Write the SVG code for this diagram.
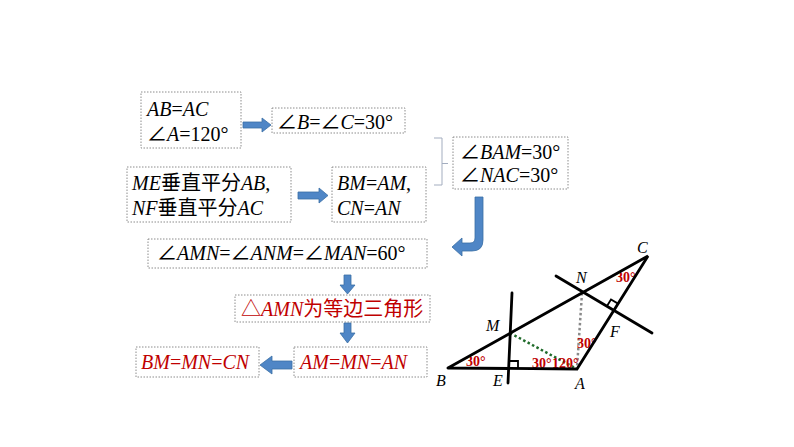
<svg xmlns="http://www.w3.org/2000/svg" width="794" height="447" viewBox="0 0 794 447">
<style>
.box{fill:#fff;stroke:#8c8c8c;stroke-width:1;stroke-dasharray:1.5 1.5}
.t{font-family:"Liberation Serif","Noto Sans CJK SC",serif;font-size:20px;fill:#000}
.r{fill:#c00000}
.i{font-style:italic}
.arr{fill:#4f86c6;stroke:#3a6ea5;stroke-width:0.8}
.ln{stroke:#000;stroke-width:2.8;fill:none;stroke-linecap:round}
.lab{font-family:"Liberation Serif",serif;font-size:16px;font-style:italic;fill:#000}
.ang{font-family:"Liberation Serif",serif;font-size:14px;font-weight:bold;fill:#c00000}
</style>
<rect width="794" height="447" fill="#fff"/>

<g id="n1">
<rect class="box" x="141" y="92" width="100" height="56"/>
<text class="t" x="147" y="116"><tspan class="i">AB</tspan>=<tspan class="i">AC</tspan></text>
<text class="t" x="147" y="141">∠<tspan class="i">A</tspan>=120°</text>
</g>
<g id="n2">
<rect class="box" x="272" y="108" width="133" height="25"/>
<text class="t" x="277" y="129">∠<tspan class="i">B</tspan>=∠<tspan class="i">C</tspan>=30°</text>
</g>
<g id="n3">
<rect class="box" x="453" y="137" width="115" height="52"/>
<text class="t" x="460" y="159">∠<tspan class="i">BAM</tspan>=30°</text>
<text class="t" x="460" y="182">∠<tspan class="i">NAC</tspan>=30°</text>
</g>
<g id="n4">
<rect class="box" x="127" y="167" width="164" height="55"/>
<text class="t" x="132" y="190"><tspan class="i">ME</tspan>垂直平分<tspan class="i">AB</tspan>,</text>
<text class="t" x="132" y="215"><tspan class="i">NF</tspan>垂直平分<tspan class="i">AC</tspan></text>
</g>
<g id="n5">
<rect class="box" x="332" y="167" width="94" height="55"/>
<text class="t" x="337" y="190"><tspan class="i">BM</tspan>=<tspan class="i">AM</tspan>,</text>
<text class="t" x="337" y="215"><tspan class="i">CN</tspan>=<tspan class="i">AN</tspan></text>
</g>
<g id="n6">
<rect class="box" x="148" y="239" width="279" height="29"/>
<text class="t" x="157" y="260">∠<tspan class="i">AMN</tspan>=∠<tspan class="i">ANM</tspan>=∠<tspan class="i">MAN</tspan>=60°</text>
</g>
<g id="n7">
<rect class="box" x="235" y="295" width="195" height="27"/>
<text class="t r" x="241" y="316">△<tspan class="i">AMN</tspan>为等边三角形</text>
</g>
<g id="n8">
<rect class="box" x="294" y="347" width="133" height="30"/>
<text class="t r" x="300" y="369"><tspan class="i">AM</tspan>=<tspan class="i">MN</tspan>=<tspan class="i">AN</tspan></text>
</g>
<g id="n9">
<rect class="box" x="136" y="347" width="123" height="30"/>
<text class="t r" x="141" y="369"><tspan class="i">BM</tspan>=<tspan class="i">MN</tspan>=<tspan class="i">CN</tspan></text>
</g>

<g id="connectors">
<path class="arr" d="M243,122 L262,122 L262,118 L271,125 L262,132 L262,128 L243,128 Z"/>
<path class="arr" d="M298,192 L319,192 L319,188 L328,195.5 L319,203 L319,199 L298,199 Z"/>
<path d="M434,138 L442,138 L442,185 L434,185 M442,163.5 L448,163.5" fill="none" stroke="#a3adbf" stroke-width="1"/>
<path class="arr" d="M475,197 L483,197 L483,240 Q483,251 472,251 L462,251 L462,256 L452,247 L462,238 L462,243 L470,243 Q475,243 475,238 Z"/>
<path class="arr" d="M344,275 L351,275 L351,285 L355,285 L347.5,294 L340,285 L344,285 Z"/>
<path class="arr" d="M344,323 L351,323 L351,333 L355,333 L347.5,343 L340,333 L344,333 Z"/>
<path class="arr" d="M292,361 L272,361 L272,356 L260,365 L272,374 L272,369 L292,369 Z"/>
</g>

<g id="figure">
<line x1="510" y1="333" x2="577" y2="369" stroke="#1f6b2a" stroke-width="2.5" stroke-dasharray="2.5 2.5"/>
<line x1="582" y1="293" x2="577" y2="368" stroke="#8a8a8a" stroke-width="2.5" stroke-dasharray="2.5 2.5"/>
<text class="ang" x="466" y="366">30°</text>
<text class="ang" x="532" y="368">30°</text>
<text class="ang" x="552" y="368">120°</text>
<text class="ang" x="577" y="348">30°</text>
<text class="ang" x="616" y="282">30°</text>
<polyline class="ln" points="448,368 577,369 648,256 448,368"/>
<line class="ln" x1="512" y1="293" x2="508" y2="383"/>
<line class="ln" x1="556" y1="276" x2="652" y2="333"/>
<polyline points="510,361 518,361 518,369" fill="none" stroke="#000" stroke-width="1.8"/>
<polyline points="607,306 611,299.5 618,303.6" fill="none" stroke="#000" stroke-width="1.8"/>
<text class="lab" x="637" y="253">C</text>
<text class="lab" x="576" y="283">N</text>
<text class="lab" x="486" y="331">M</text>
<text class="lab" x="436" y="386">B</text>
<text class="lab" x="493" y="386">E</text>
<text class="lab" x="575" y="389">A</text>
<text class="lab" x="610" y="337">F</text>
</g>
</svg>
